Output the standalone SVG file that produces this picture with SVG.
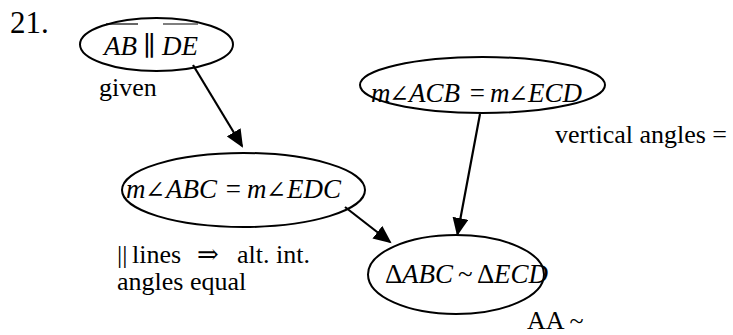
<svg xmlns="http://www.w3.org/2000/svg" width="733" height="335" viewBox="0 0 733 335">
<style>
.node ellipse{fill:none;stroke:#000;stroke-width:2}
.lbl{font-family:"Liberation Serif","DejaVu Serif",serif;font-style:italic;font-size:27px;fill:#000}
.up{font-style:normal}
.ang{font-size:24px}
.ann{font-family:"Liberation Serif","DejaVu Serif",serif;font-size:26px;fill:#000}
.edge{stroke:#000;stroke-width:2.2;fill:none;marker-end:url(#ah)}
</style>
<defs>
<marker id="ah" markerUnits="userSpaceOnUse" markerWidth="19" markerHeight="16" refX="16" refY="8" orient="auto">
<path d="M0,0 L18,8 L0,16 z" fill="#000"/>
</marker>
</defs>
<text class="ann" x="10" y="33" style="font-size:31px">21.</text>
<g id="n1" class="node">
<ellipse cx="156.5" cy="44.5" rx="76.5" ry="26.5"/>
<text class="lbl" y="55"><tspan x="104">AB</tspan><tspan class="up" x="143">∥</tspan><tspan x="162">DE</tspan></text>
<line x1="106" y1="24" x2="138" y2="24" stroke="#000" stroke-width="1.2"/>
<line x1="163" y1="24" x2="198" y2="24" stroke="#000" stroke-width="1.2"/>
</g>
<text class="ann" x="99" y="96">given</text>
<g id="n2" class="node">
<ellipse cx="243.5" cy="190" rx="121.5" ry="37"/>
<text class="lbl" y="198"><tspan x="126">m</tspan><tspan class="ang" x="145">∠</tspan><tspan x="166">ABC</tspan><tspan x="224">=</tspan><tspan x="247">m</tspan><tspan class="ang" x="266">∠</tspan><tspan x="287">EDC</tspan></text>
</g>
<g id="n3" class="node">
<ellipse cx="482.5" cy="85" rx="122.5" ry="28"/>
<text class="lbl" y="102"><tspan x="371">m</tspan><tspan class="ang" x="389">∠</tspan><tspan x="409">ACB</tspan><tspan x="468">=</tspan><tspan x="490">m</tspan><tspan class="ang" x="508">∠</tspan><tspan x="528">ECD</tspan></text>
</g>
<g id="n4" class="node">
<ellipse cx="456" cy="274.5" rx="88" ry="39.5"/>
<text class="lbl" y="283"><tspan class="up" x="385">Δ</tspan><tspan x="402">ABC</tspan><tspan class="up" x="458">~</tspan><tspan class="up" x="477">Δ</tspan><tspan x="494">ECD</tspan></text>
</g>
<text class="ann" x="555" y="143">vertical angles =</text>
<text class="ann" x="117" y="263"><tspan>||</tspan><tspan x="132">lines</tspan><tspan x="197">⇒</tspan><tspan x="237">alt. int.</tspan></text>
<text class="ann" x="117" y="290">angles equal</text>
<text class="ann" x="527" y="329">AA ~</text>
<g id="edges">
<line class="edge" x1="193" y1="65" x2="242" y2="146"/>
<line class="edge" x1="345" y1="207" x2="390" y2="242"/>
<line class="edge" x1="480" y1="114" x2="457.5" y2="234"/>
</g>
</svg>
